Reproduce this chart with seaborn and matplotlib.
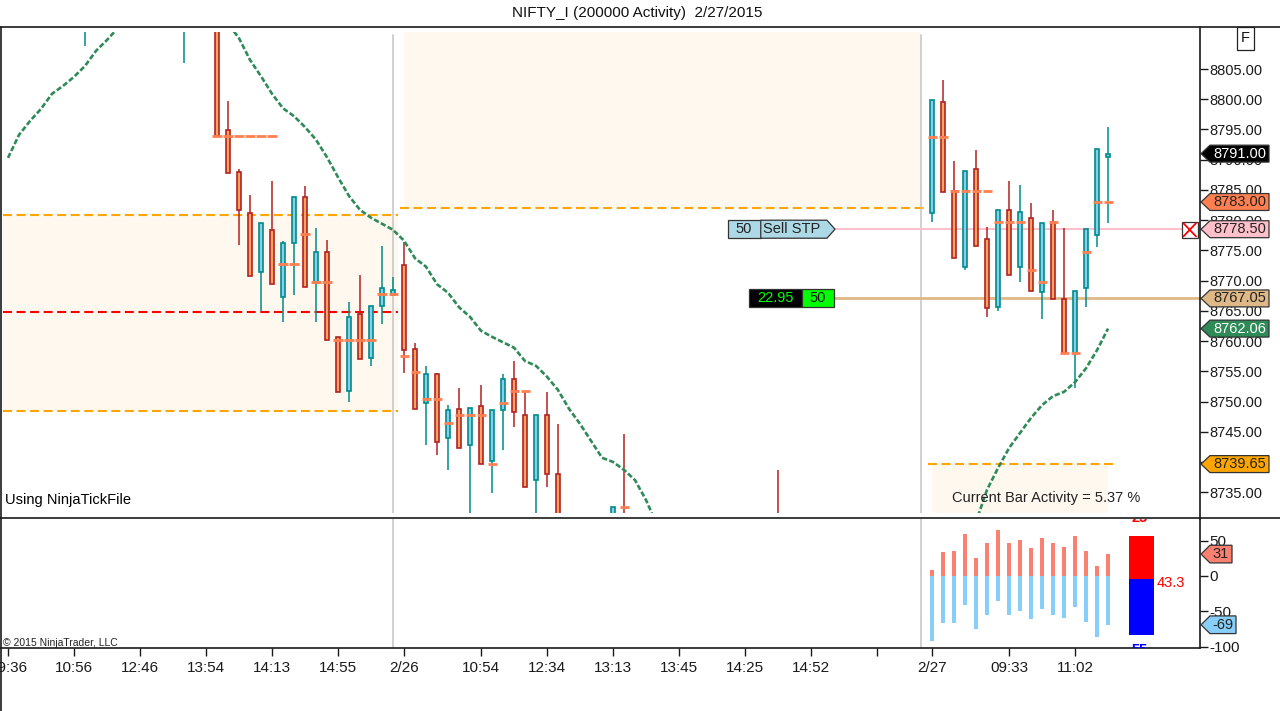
import matplotlib
matplotlib.use("Agg")
import matplotlib.pyplot as plt
import matplotlib.transforms as mtransforms
from matplotlib.patches import Rectangle, Polygon
from matplotlib.lines import Line2D
from matplotlib.ticker import FormatStrFormatter
import seaborn as sns

# ---- data (bar index, OHLC) ----
bar_idx = [7, 16, 19, 20, 21, 22, 23, 24, 25, 26, 27, 28, 29, 30, 31, 32, 33, 34, 35,
           36, 37, 38, 39, 40, 41, 42, 43, 44, 45, 46, 47, 48, 49, 50, 55, 56, 70,
           84, 85, 86, 87, 88, 89, 90, 91, 92, 93, 94, 95, 96, 97, 98, 99, 100]
opens = [8813.0, 8813.0, 8817.0, 8794.9, 8787.9, 8781.1, 8771.4, 8778.3, 8767.3, 8776.3,
         8783.8, 8769.6, 8774.7, 8760.6, 8751.8, 8764.5, 8757.15, 8765.8, 8767.7,
         8772.6, 8758.7, 8749.7, 8754.5, 8743.9, 8748.7, 8742.8, 8749.2, 8740.1, 8748.55,
         8753.7, 8747.7, 8737.1, 8747.7, 8738.0, 8726.0, 8729.0, 8729.0,
         8781.2, 8799.6, 8784.9, 8772.3, 8788.4, 8776.8, 8765.7, 8781.6, 8772.3, 8780.3,
         8768.1, 8779.75, 8766.9, 8758.1, 8768.7, 8777.5, 8790.5]
highs = [8818.0, 8819.0, 8819.0, 8799.7, 8788.4, 8784.2, 8779.6, 8786.5, 8776.5, 8783.8,
         8785.65, 8778.65, 8776.7, 8760.6, 8766.4, 8771.0, 8765.8, 8775.7, 8770.6,
         8776.4, 8759.6, 8755.8, 8754.7, 8749.4, 8752.2, 8748.9, 8752.7, 8748.55, 8754.5,
         8756.7, 8751.7, 8747.7, 8751.5, 8746.2, 8732.5, 8744.6, 8738.7,
         8799.8, 8803.2, 8789.8, 8788.2, 8791.6, 8778.8, 8781.6, 8786.5, 8785.8, 8782.8,
         8779.6, 8781.7, 8778.65, 8768.2, 8778.5, 8791.7, 8795.4]
lows = [8808.8, 8806.0, 8793.9, 8787.75, 8775.9, 8770.7, 8764.9, 8769.4, 8763.2, 8767.6,
        8769.0, 8763.2, 8760.1, 8751.5, 8749.9, 8757.0, 8755.9, 8762.9, 8767.7,
        8754.7, 8748.7, 8742.8, 8741.2, 8738.7, 8742.3, 8729.0, 8739.6, 8734.8, 8741.9,
        8745.8, 8735.8, 8729.0, 8735.8, 8724.0, 8724.0, 8722.0, 8720.0,
        8779.75, 8784.7, 8773.7, 8771.75, 8775.8, 8763.9, 8765.0, 8771.0, 8769.7, 8768.2,
        8763.65, 8766.9, 8758.1, 8752.2, 8765.7, 8775.6, 8779.6]
closes = [8816.0, 8817.0, 8793.9, 8787.75, 8781.6, 8770.7, 8779.6, 8769.4, 8776.3, 8783.8,
          8769.0, 8774.7, 8760.1, 8751.5, 8763.9, 8757.0, 8765.8, 8768.7, 8768.4,
          8758.6, 8748.7, 8754.5, 8743.3, 8748.55, 8742.3, 8748.9, 8739.6, 8748.55, 8753.7,
          8748.2, 8735.8, 8747.7, 8738.0, 8726.0, 8732.5, 8725.0, 8724.0,
          8799.8, 8784.7, 8773.7, 8788.2, 8775.8, 8765.4, 8781.6, 8771.0, 8781.3, 8768.2,
          8779.6, 8766.9, 8758.1, 8768.2, 8778.5, 8791.7, 8791.0]

# coral per-bar dashes
poc_bar = [19, 20, 21, 22, 23, 24, 25, 26, 27, 28, 29, 30, 31, 32, 33, 34, 35,
           36, 37, 38, 39, 40, 41, 42, 43, 44, 45, 46, 47, 56,
           84, 85, 86, 87, 88, 89, 90, 91, 92, 93, 94, 95, 96, 97, 98, 99, 100]
poc_price = [8793.9, 8793.9, 8793.9, 8793.9, 8793.9, 8793.9, 8772.75, 8772.75, 8777.7,
             8769.8, 8769.8, 8760.2, 8760.2, 8760.2, 8760.2, 8767.8, 8767.8,
             8757.5, 8754.8, 8750.4, 8750.4, 8746.5, 8747.8, 8747.8, 8747.8, 8739.7,
             8749.8, 8751.7, 8751.7, 8732.6,
             8793.75, 8793.75, 8784.9, 8784.9, 8784.9, 8784.9, 8779.7, 8779.7, 8779.7,
             8771.75, 8769.8, 8779.7, 8758.1, 8758.1, 8774.7, 8783.0, 8783.0]

# green dashed average (one value per bar, off-window values estimated)
ma_idx = list(range(0, 101))
ma_val = [8790.3, 8794.1, 8796.4, 8798.4, 8800.9, 8802.2, 8803.7, 8805.5, 8808.0, 8809.8,
          8811.8, 8814.0, 8816.0, 8817.5, 8818.5, 8819.0, 8818.5, 8817.5, 8816.0, 8814.0,
          8812.5, 8810.1, 8806.5, 8803.8, 8800.9, 8798.5, 8797.2, 8795.4, 8793.3, 8790.4,
          8787.1, 8784.0, 8781.7, 8780.4, 8779.4, 8778.4, 8776.6, 8773.7, 8772.3, 8769.4,
          8768.0, 8765.6, 8764.0, 8761.7, 8760.7, 8759.8, 8758.9, 8756.7, 8755.9, 8754.1,
          8751.9, 8748.8, 8746.3, 8743.5, 8740.7, 8740.0, 8738.7, 8737.0, 8733.7, 8729.6,
          8727.0, 8725.0, 8723.0, 8721.0, 8720.0, 8719.0, 8718.0, 8717.5, 8717.0, 8716.5,
          8716.0, 8716.0, 8716.0, 8716.5, 8717.0, 8717.5, 8718.0, 8719.0, 8720.0, 8721.0,
          8722.0, 8723.0, 8724.0, 8725.0, 8726.0, 8727.0, 8727.5, 8728.5, 8730.1, 8735.4,
          8739.0, 8742.3, 8744.8, 8747.3, 8749.4, 8750.9, 8751.6, 8753.2, 8755.5, 8758.5,
          8762.06]

# activity panel
vol_bar = list(range(84, 101))
buy_vol = [8.5, 34, 35.4, 59.4, 25.5, 46.7, 65.1, 46.7, 50.9, 39.6, 53.8, 46.7, 41.0,
           56.6, 35.4, 14.2, 31.0]
sell_vol = [-91.5, -66, -66, -40.6, -74.5, -54.7, -34.9, -54.7, -49.1, -60.4, -46.2,
            -54.7, -59, -43.4, -64.6, -85.8, -69.0]

tick_pos = [0, 6, 12, 18, 24, 30, 36, 43, 49, 55, 61, 67, 73, 79, 84, 91, 97]
tick_lab = ["09:36", "10:56", "12:46", "13:54", "14:13", "14:55", "2/26", "10:54",
            "12:34", "13:13", "13:45", "14:25", "14:52", "", "2/27", "09:33", "11:02"]

# ---- style ----
sns.set_theme(style="white")
plt.rcParams['font.family'] = ['Liberation Sans', 'DejaVu Sans']
plt.rcParams['axes.unicode_minus'] = False

W, H = 1280, 711
fig = plt.figure(figsize=(12.8, 7.11), dpi=100)
fig.patch.set_facecolor("white")


def fy(py):
    return 1 - py / H


ax1 = fig.add_axes([1 / W, fy(513), 1199 / W, (513 - 32) / H])
ax2 = fig.add_axes([1 / W, fy(648), 1199 / W, (648 - 519) / H])
xl = (-0.636, 108.36)

for ax in (ax1, ax2):
    ax.set_facecolor("white")
    for s in ax.spines.values():
        s.set_visible(False)
ax2.spines["bottom"].set_visible(True)
ax2.spines["right"].set_visible(True)
for s in ("bottom", "right"):
    ax2.spines[s].set_color("#1a1a1a")
    ax2.spines[s].set_linewidth(1.2)

# frame lines
frame_kw = dict(color="#1a1a1a", lw=1.2, transform=fig.transFigure)
fig.add_artist(Line2D([0, 1], [fy(27), fy(27)], **frame_kw))
fig.add_artist(Line2D([0, 1], [fy(518), fy(518)], **frame_kw))
fig.add_artist(Line2D([1 / W, 1 / W], [fy(27), 0], **frame_kw))
fig.add_artist(Line2D([1200 / W, 1200 / W], [fy(27), fy(519)], **frame_kw))

# shaded zones and level lines
shade = "#FFF8EF"
ax1.add_patch(Rectangle((-0.45, 8748.43), 35.9, 8780.85 - 8748.43, fc=shade, ec="none", zorder=0))
ax1.add_patch(Rectangle((36.0, 8782.0), 47.0, 40, fc=shade, ec="none", zorder=0))
ax1.add_patch(Rectangle((84.0, 8720), 16.0, 8739.65 - 8720, fc=shade, ec="none", zorder=0))
dash = (0, (4.3, 2.2))
ax1.hlines([8780.85, 8748.43], -0.45, 35.45, colors="#FFA500", lw=1.5, linestyles=[dash], zorder=1)
ax1.hlines(8764.8, -0.45, 35.45, colors="#FF0000", lw=1.5, linestyles=[dash], zorder=1)
ax1.hlines(8782.0, 35.6, 83.4, colors="#FFA500", lw=1.5, linestyles=[dash], zorder=1)
ax1.hlines(8739.65, 83.6, 100.5, colors="#FFA500", lw=1.5, linestyles=[dash], zorder=1)

# session breaks
for sep in (35, 83):
    ax1.axvline(sep, ymin=0, ymax=(513 - 35) / (513 - 32), color="#C8C8C8", lw=1.2, zorder=1)
    ax2.axvline(sep, color="#C8C8C8", lw=1.2, zorder=1)

# order lines
ax1.hlines(8778.5, 75.18, xl[1], colors="#FFC0CB", lw=1.5, zorder=2)
ax1.hlines(8767.05, 75.09, xl[1], colors="#DEB887", lw=2, zorder=2)

# candles
for i, o, h, l, c in zip(bar_idx, opens, highs, lows, closes):
    up = c >= o
    edge = "#008B8B" if up else "#B22222"
    fill = "#87CEEB" if up else "#F4A460"
    ax1.vlines(i, l, h, colors=edge, lw=1.1, zorder=3)
    lo, hi = min(o, c), max(o, c)
    ax1.add_patch(Rectangle((i - 0.21, lo), 0.42, max(hi - lo, 0.3), fc=fill, ec=edge, lw=1.2, zorder=4))

for b, p in zip(poc_bar, poc_price):
    ax1.hlines(p, b - 0.41, b + 0.41, colors="#FF7F50", lw=2.0, zorder=5)

sns.lineplot(x=ma_idx, y=ma_val, ax=ax1, color="#2E8B57", lw=1.9,
             linestyle=(0, (2.0, 0.9)), legend=False, zorder=6)
ax1.set_xlabel("")
ax1.set_ylabel("")
ax1.set_xlim(xl)
ax1.set_ylim(8731.56, 8811.12)

# y axis (right)
ax1.yaxis.tick_right()
ax1.set_yticks([8735 + 5 * k for k in range(15)])
ax1.yaxis.set_major_formatter(FormatStrFormatter("%.2f"))
ax1.tick_params(axis="y", right=True, left=False, direction="out", length=6, width=1,
                pad=1, labelsize=10.5, color="#1a1a1a", labelcolor="#1a1a1a")
ax1.set_xticks([])


# order labels
def box(ax, x0, x1, y0, y1, fc):
    ax.add_patch(Rectangle((x0, y0), x1 - x0, y1 - y0, fc=fc, ec="#333333", lw=0.9, zorder=8))


hh = 1.49
box(ax1, 65.45, 68.43, 8778.5 - hh, 8778.5 + hh, "#ADD8E6")
ax1.add_patch(Polygon([(68.43, 8778.5 - hh), (74.45, 8778.5 - hh), (75.18, 8778.5),
                       (74.45, 8778.5 + hh), (68.43, 8778.5 + hh)], closed=True,
                      fc="#ADD8E6", ec="#333333", lw=0.9, zorder=8))
ax1.text(66.9, 8778.5, "50", ha="center", va="center", fontsize=10.5, color="#222222", zorder=9)
ax1.text(68.65, 8778.5, "Sell STP", ha="left", va="center", fontsize=10.5, color="#222222", zorder=9)
box(ax1, 67.36, 72.18, 8767.05 - hh, 8767.05 + hh, "black")
box(ax1, 72.18, 75.09, 8767.05 - hh, 8767.05 + hh, "#00FF00")
ax1.text(69.77, 8767.05, "22.95", ha="center", va="center", fontsize=10.5, color="#00FF00", zorder=9)
ax1.text(73.63, 8767.05, "50", ha="center", va="center", fontsize=10.5, color="#111111", zorder=9)

# red X
ax1.add_patch(Rectangle((106.7, 8777.05), 1.45, 2.7, fc="white", ec="#333333", lw=0.9,
                        zorder=9, clip_on=False))
ax1.plot([106.85, 108.0], [8777.3, 8779.5], color="red", lw=1.3, zorder=10, clip_on=False)
ax1.plot([106.85, 108.0], [8779.5, 8777.3], color="red", lw=1.3, zorder=10, clip_on=False)


def flag(ax, y, half, xr, text, fc, tc):
    tr = mtransforms.blended_transform_factory(fig.transFigure, ax.transData)
    tip, bx, r = 1201 / W, 1210 / W, xr / W
    pts = [(tip, y), (bx, y + half), (r, y + half), (r, y - half), (bx, y - half)]
    ax.add_patch(Polygon(pts, closed=True, transform=tr, fc=fc, ec="#333333", lw=0.9,
                         clip_on=False, zorder=20))
    ax.text((bx + r) / 2, y, text, transform=tr, ha="center", va="center", fontsize=10.5,
            color=tc, zorder=21, clip_on=False)


fh = 1.4
flag(ax1, 8791.00, fh, 1269, "8791.00", "black", "white")
flag(ax1, 8783.00, fh, 1269, "8783.00", "#FF7F50", "#222222")
flag(ax1, 8778.50, fh, 1269, "8778.50", "#FFC0CB", "#222222")
flag(ax1, 8767.05, fh, 1269, "8767.05", "#DEB887", "#222222")
flag(ax1, 8762.06, fh, 1269, "8762.06", "#2E8B57", "white")
flag(ax1, 8739.65, fh, 1269, "8739.65", "#FFA500", "#222222")

ax1.text(-0.3, 8733.7, "Using NinjaTickFile", ha="left", va="center", fontsize=10.5, color="black")
ax1.text(85.8, 8734.0, "Current Bar Activity = 5.37 %", ha="left", va="center",
         fontsize=10.5, color="#222222", zorder=9)

fig.text(637 / W, fy(13), "NIFTY_I (200000 Activity)  2/27/2015", ha="center", va="center",
         fontsize=11, color="#111111")
fig.text(1245.5 / W, fy(38.5), "F", ha="center", va="center", fontsize=10.5, color="#111111",
         bbox=dict(boxstyle="square,pad=0.3", fc="white", ec="#222222", lw=0.9))

# ---- activity panel ----
sns.barplot(x=vol_bar, y=buy_vol, ax=ax2, native_scale=True, width=0.38, color="#FA8072",
            saturation=1, linewidth=0, errorbar=None)
sns.barplot(x=vol_bar, y=sell_vol, ax=ax2, native_scale=True, width=0.38, color="#87CEFA",
            saturation=1, linewidth=0, errorbar=None)
ax2.add_patch(Rectangle((101.9, -4.2), 2.3, 56.6 + 4.2, fc="#FF0000", ec="none", zorder=3))
ax2.add_patch(Rectangle((101.9, -83.5), 2.3, 83.5 - 4.2, fc="#0000FF", ec="none", zorder=3))
ax2.text(104.4, -9.9, "43.3", ha="left", va="center", fontsize=10.5, color="#FF0000")
ax2.text(102.9, 81.5, "25", ha="center", va="center", fontsize=10.5, color="#FF0000",
         fontweight="bold", clip_on=True)
ax2.text(102.9, -104.5, "55", ha="center", va="center", fontsize=10.5, color="#0000FF",
         fontweight="bold", clip_on=True)
ax2.text(-0.45, -95.5, "\u00a9 2015 NinjaTrader, LLC", ha="left", va="center", fontsize=7.5,
         color="#222222")

ax2.set_xlabel("")
ax2.set_ylabel("")
ax2.set_xlim(xl)
ax2.set_ylim(-101.9, 80.66)
ax2.yaxis.tick_right()
ax2.set_yticks([-100, -50, 0, 50])
ax2.set_xticks(tick_pos)
ax2.set_xticklabels(tick_lab)
ax2.tick_params(axis="y", right=True, left=False, direction="out", length=6, width=1,
                pad=1, labelsize=11, color="#1a1a1a", labelcolor="#1a1a1a")
ax2.tick_params(axis="x", bottom=True, direction="out", length=6, width=1, pad=3,
                labelsize=11, color="#1a1a1a", labelcolor="#1a1a1a")

fh2 = 12.5
flag(ax2, 31, fh2, 1232, "31", "#FA8072", "#222222")
flag(ax2, -69, fh2, 1236, "-69", "#87CEFA", "#222222")

fig.savefig("out.png", dpi=100)
